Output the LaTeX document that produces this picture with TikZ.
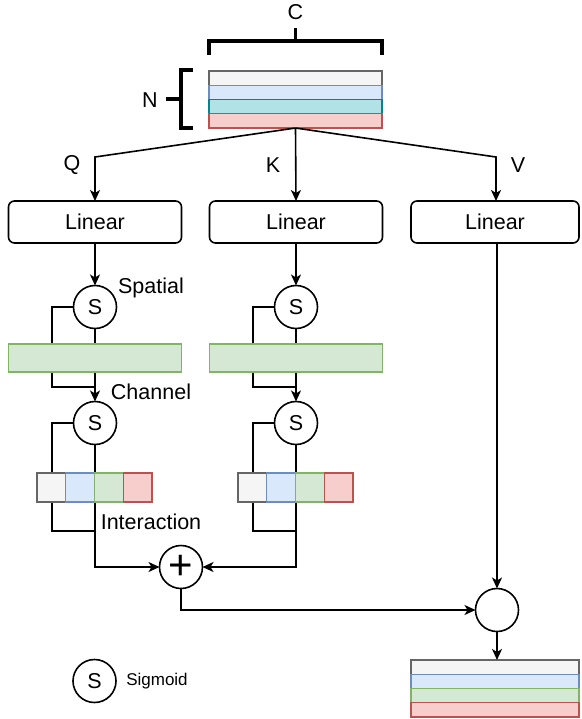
\documentclass[tikz,border=0pt]{standalone}
\usepackage{fontspec}
\setmainfont{Liberation Sans}
\usetikzlibrary{arrows.meta}
\definecolor{gfill}{HTML}{F5F5F5}\definecolor{gline}{HTML}{666666}
\definecolor{bfill}{HTML}{DAE8FC}\definecolor{bline}{HTML}{6C8EBF}
\definecolor{tfill}{HTML}{B0E3E6}\definecolor{tline}{HTML}{0E8088}
\definecolor{rfill}{HTML}{F8CECC}\definecolor{rline}{HTML}{B85450}
\definecolor{grfill}{HTML}{D5E8D4}\definecolor{grline}{HTML}{82B366}
\begin{document}
\begin{tikzpicture}[x=1pt,y=-1pt,line width=1.6pt,
  every node/.style={font=\fontsize{21.5}{25}\selectfont,inner sep=0pt,outer sep=0pt},
  lin/.style={draw,rounded corners=6pt,fill=white,minimum width=173pt,minimum height=42pt},
  sig/.style={draw,circle,fill=white,minimum size=43pt},
  wide/.style={draw,rectangle,line width=1.2pt,minimum width=173pt,minimum height=14.25pt},
  gbar/.style={wide,minimum height=28pt},
  cell/.style={draw,rectangle,line width=1.2pt,minimum width=28.75pt,minimum height=29pt},
  cg/.style={fill=gfill,draw=gline},
  cb/.style={fill=bfill,draw=bline},
  ct/.style={fill=tfill,draw=tline},
  cr/.style={fill=rfill,draw=rline},
  cgr/.style={fill=grfill,draw=grline},
  arr/.style={-{Stealth[length=11pt,width=10pt,inset=3pt]}},
  conn/.style={line width=1.6pt,draw=black},
  brk/.style={line width=3.2pt}
]
\useasboundingbox (0,0) rectangle (581,719);

% input tensor
\node[wide,cg] (i1) at (295.5,78.1) {};
\node[wide,cb] (i2) at (295.5,92.4) {};
\node[wide,ct] (i3) at (295.5,106.6) {};
\node[wide,cr] (i4) at (295.5,120.9) {};

% brackets
\draw[brk] (209,55) -- (209,41) -- (382,41) -- (382,55);
\draw[brk] (295.5,41) -- (295.5,28);
\draw[brk] (193,70) -- (181,70) -- (181,128) -- (193,128);
\draw[brk] (166,99) -- (181,99);
\node (lc) at (295.5,12) {C};
\node (ln) at (150,100) {N};

% linear boxes
\node[lin] (lq) at (95,222) {Linear};
\node[lin] (lk) at (296,222) {Linear};
\node[lin,minimum width=168pt] (lv) at (495,222) {Linear};
\node (tq) at (72,165) {Q};
\node (tk) at (273,165) {K};
\node (tv) at (518,165) {V};
\coordinate (qb) at (95,157);
\coordinate (vb) at (496,157);

% sigmoid circles
\node[sig] (sq1) at (95,307) {S};
\node[sig] (sq2) at (95,423) {S};
\node[sig] (sk1) at (296,307) {S};
\node[sig] (sk2) at (296,423) {S};
\node (tsp) at (151,288) {Spatial};
\node (tch) at (151,392) {Channel};
\node (tin) at (151,522) {Interaction};

% combination
\node[sig] (plus) at (181,567) {\fontsize{42}{42}\selectfont +};
\node[sig] (mul) at (497,610) {};

% output tensor
\node[wide,cg,minimum width=168pt] (o1) at (495,667.1) {};
\node[wide,cb,minimum width=168pt] (o2) at (495,681.4) {};
\node[wide,cgr,minimum width=168pt] (o3) at (495,695.6) {};
\node[wide,cr,minimum width=168pt] (o4) at (495,709.9) {};

% legend
\node[sig] (leg) at (94.5,681) {S};
\node[font=\fontsize{17}{20}\selectfont] (tleg) at (157,681) {Sigmoid};

\coordinate (ql1) at (52,387); \coordinate (qj1) at (95,387);
\coordinate (ql2) at (52,531); \coordinate (qj2) at (95,531);
\coordinate (kl1) at (253,387); \coordinate (kj1) at (296,387);
\coordinate (kl2) at (253,531); \coordinate (kj2) at (296,531);

% connectors
\draw[conn,arr] (i4.south) -- (qb) -- (lq.north);
\draw[conn,arr] (i4.south) -- (lk.north);
\draw[conn,arr] (i4.south) -- (vb) -- (lv.north -| vb);
\draw[conn,arr] (lq.south) -- (sq1.north);
\draw[conn,arr] (lk.south) -- (sk1.north);
\draw[conn,arr] (sq1.south) -- (sq2.north);
\draw[conn] (sq1.west) -| (ql1) -- (qj1);
\draw[conn,arr] (sk1.south) -- (sk2.north);
\draw[conn] (sk1.west) -| (kl1) -- (kj1);
\draw[conn] (sq2.west) -| (ql2) -- (qj2);
\draw[conn] (sk2.west) -| (kl2) -- (kj2);
\draw[conn,arr] (sq2.south) |- (plus.west);
\draw[conn,arr] (sk2.south) |- (plus.east);
\draw[conn,arr] (plus.south) |- (mul.west);
\draw[conn,arr] (lv.south -| mul.north) -- (mul.north);
\draw[conn,arr] (mul.south) -- (o1.north -| mul.south);

% feature bars and cells drawn over the connectors
\node[gbar,cgr] (gq) at (95,358) {};
\node[gbar,cgr] (gk) at (296,358) {};
\node[cell,cg] (q1) at (51.4,487.5) {};
\node[cell,cb] (q2) at (80.1,487.5) {};
\node[cell,cgr] (q3) at (108.9,487.5) {};
\node[cell,cr] (q4) at (137.6,487.5) {};
\node[cell,cg] (k1) at (252.4,487.5) {};
\node[cell,cb] (k2) at (281.1,487.5) {};
\node[cell,cgr] (k3) at (309.9,487.5) {};
\node[cell,cr] (k4) at (338.6,487.5) {};
\end{tikzpicture}
\end{document}
